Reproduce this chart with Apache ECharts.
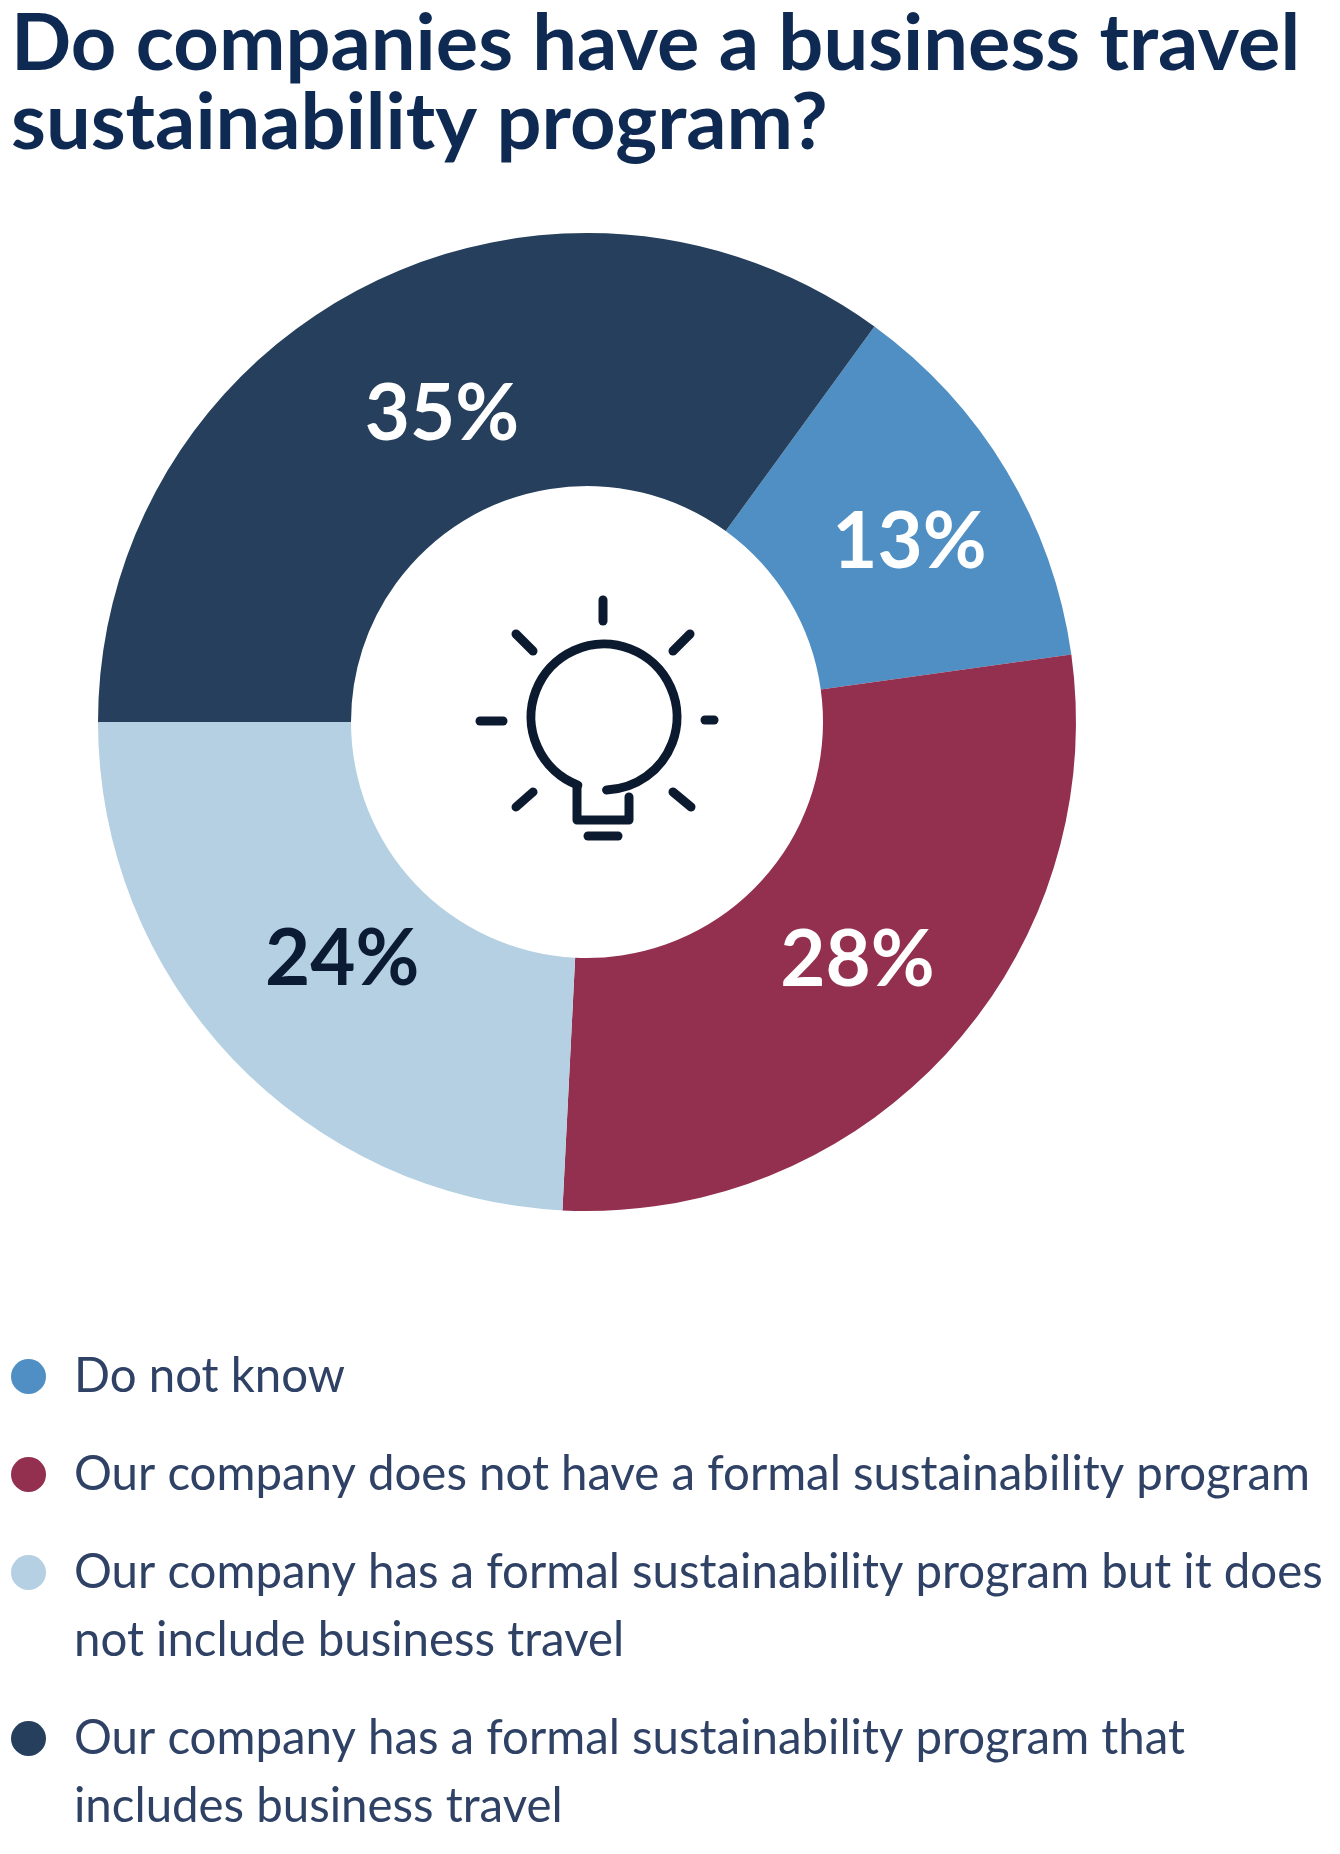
<!DOCTYPE html>
<html>
<head>
<meta charset="utf-8">
<style>
  html, body { margin: 0; padding: 0; background: #fff; }
  #chart { width: 1340px; height: 1854px; }
</style>
<script src="https://cdn.jsdelivr.net/npm/echarts@6/dist/echarts.min.js"></script>
</head>
<body>
<div id="chart"></div>
<script>
const titleText = 'Do companies have a business travel\nsustainability program?'

const categories = [
  'Do not know',
  'Our company does not have a formal sustainability program',
  'Our company has a formal sustainability program but it does not include business travel',
  'Our company has a formal sustainability program that includes business travel'
]
// the labels are whole percents, the slices are a bit finer than that
const values = [12.8, 28, 24.2, 35]
const colors = ['#4f8fc4', '#932f4f', '#b4d0e2', '#253f5c']
const labelColors = ['#ffffff', '#ffffff', '#0b1b33', '#ffffff']
const labelShift = [[9, 9], [1, -8], [20, -14], [21, 19]]
const legendLines = [
  ['Do not know'],
  ['Our company does not have a formal sustainability program'],
  ['Our company has a formal sustainability program but it does', 'not include business travel'],
  ['Our company has a formal sustainability program that', 'includes business travel']
]

const FONT = 'Lato'
const INK = '#0c1a30'

// rich styles for the legend: the dot sits on the first line only
const legendRich = {
  t: { fontFamily: FONT, fontSize: 47.4, color: '#2f4266', lineHeight: 68 },
  gap: { width: 28, lineHeight: 68 },
  indent: { width: 63, lineHeight: 68 }
}
colors.forEach((c, i) => {
  legendRich['d' + i] = { width: 35, height: 35, borderRadius: 18, backgroundColor: c, lineHeight: 68 }
})

const legendFormatter = (name) => {
  const i = categories.indexOf(name)
  return legendLines[i].map((line, n) => {
    const lead = n === 0 ? `{d${i}| }{gap| }` : '{indent| }'
    return `${lead}{t|${line}}`
  }).join('\n')
}

const bulbLine = (points) => ({
  type: 'polyline',
  shape: { points },
  style: { stroke: INK, lineWidth: 9, fill: null, lineCap: 'round', lineJoin: 'round' }
})

const bulbIcon = {
  type: 'group',
  silent: true,
  children: [
    {
      type: 'arc',
      shape: { cx: 604, cy: 717, r: 73, startAngle: 111 * Math.PI / 180, endAngle: 88 * Math.PI / 180, clockwise: true },
      style: { stroke: INK, lineWidth: 9, fill: null, lineCap: 'round' }
    },
    bulbLine([[577, 787], [577, 820], [629, 820], [629, 797]]),
    bulbLine([[588, 836], [618, 836]]),
    bulbLine([[603, 600], [603, 621]]),
    bulbLine([[480, 721], [503, 721]]),
    bulbLine([[705, 720], [714, 720]]),
    bulbLine([[516, 634], [533, 651]]),
    bulbLine([[690, 634], [673, 651]]),
    bulbLine([[533, 792], [516, 807]]),
    bulbLine([[673, 792], [691, 807]])
  ]
}

const chart = echarts.init(document.getElementById('chart'))

chart.setOption({
  animation: false,
  backgroundColor: '#ffffff',
  title: {
    text: titleText,
    left: 11,
    top: 5,
    padding: 0,
    textStyle: { fontFamily: FONT, fontWeight: 700, fontSize: 79.4, lineHeight: 79, color: '#0f2a52' }
  },
  legend: {
    orient: 'vertical',
    left: 6,
    top: 1353,
    height: 900,
    padding: 0,
    icon: 'none',
    itemWidth: 0,
    itemHeight: 30,
    itemGap: 51,
    selectedMode: false,
    formatter: legendFormatter,
    textStyle: { rich: legendRich },
    data: categories
  },
  graphic: [bulbIcon],
  series: [
    {
      type: 'pie',
      center: [587, 722],
      radius: [236, 489],
      startAngle: 54,
      clockwise: true,
      silent: true,
      labelLine: { show: false },
      label: {
        position: 'inside',
        formatter: (p) => Math.round(p.value) + '%',
        fontFamily: FONT,
        fontWeight: 700,
        fontSize: 78
      },
      labelLayout: (p) => ({ dx: labelShift[p.dataIndex][0], dy: labelShift[p.dataIndex][1] }),
      data: categories.map((name, i) => ({
        name,
        value: values[i],
        itemStyle: { color: colors[i] },
        label: { color: labelColors[i] }
      }))
    }
  ]
})
</script>
</body>
</html>
